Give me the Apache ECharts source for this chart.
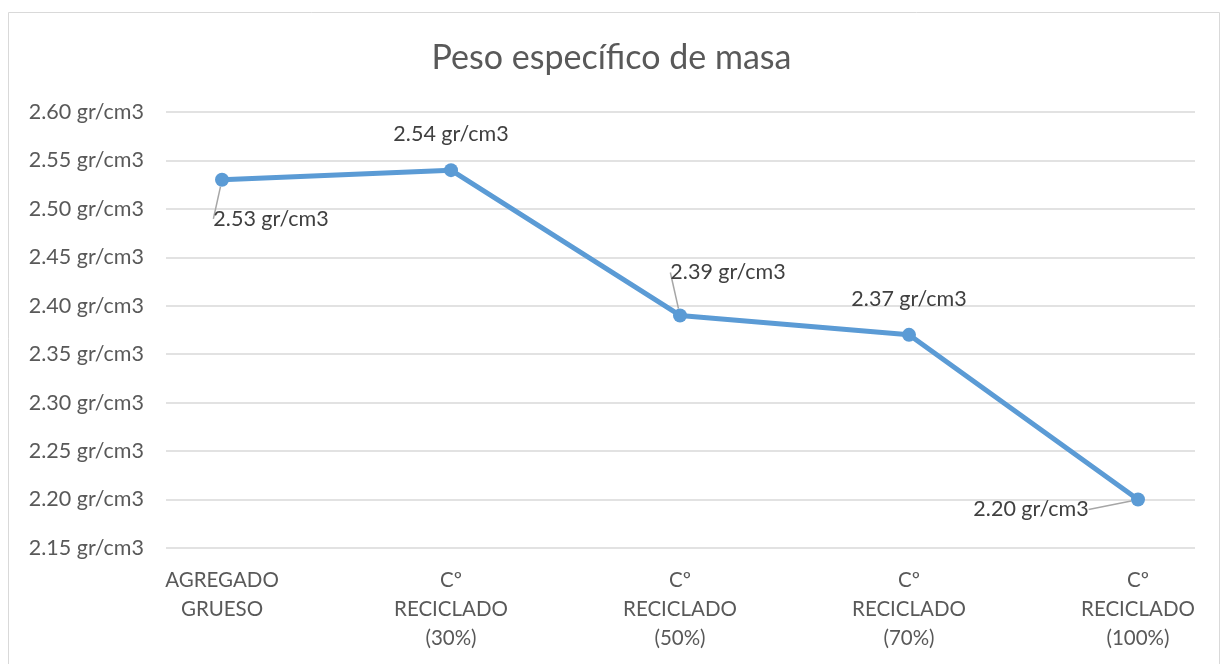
<!DOCTYPE html>
<html lang="es">
<head>
  <meta charset="UTF-8">
  <title>Peso específico de masa</title>
  <script src="https://cdn.jsdelivr.net/npm/echarts@6/dist/echarts.min.js"></script>
  <style>
    html, body { margin: 0; padding: 0; background: #fff; }
  </style>
</head>
<body>
<div id="main" style="width: 1223px; height: 664px"></div>
<script>

  var categories = ['AGREGADO\nGRUESO', 'Cº\nRECICLADO\n(30%)', 'Cº\nRECICLADO\n(50%)', 'Cº\nRECICLADO\n(70%)', 'Cº\nRECICLADO\n(100%)'];
  var values = [2.53, 2.54, 2.39, 2.37, 2.20];
  // label offsets from the default 'top' spot, one per point
  var labelShift = [[49, 75], [0, 0], [48, -7], [0, 0], [-107, 46]];
  var hasLeader = [true, false, true, false, true];

  var font = 'Lato, "Open Sans", sans-serif';
  var chartDom = document.getElementById('main');
  var myChart = echarts.init(chartDom);
  var option;

  var seriesData = values.map(function (v, i) {
    return { value: v, labelLine: { show: hasLeader[i] } };
  });

  option = {
    animation: false,
    textStyle: { fontFamily: font },
    title: {
      text: 'Peso específico de masa',
      left: 'center',
      top: 36,
      textStyle: { fontFamily: font, fontSize: 34, fontWeight: 'normal', color: '#595959' }
    },
    graphic: [{
      type: 'rect',
      shape: { x: 8.5, y: 12.5, width: 1211, height: 660 },
      style: { fill: 'none', stroke: '#d9d9d9', lineWidth: 1 },
      silent: true
    }],
    grid: [
      { left: 166, right: 28, top: 112, bottom: 116 },
      { left: 222, right: 85, top: 112, bottom: 116 }
    ],
    xAxis: [
      { gridIndex: 0, type: 'value', min: 0, max: 1, show: false },
      {
        gridIndex: 1,
        type: 'category',
        data: categories,
        boundaryGap: false,
        axisLine: { show: false },
        axisTick: { show: false },
        axisLabel: { color: '#595959', fontSize: 20.5, lineHeight: 29, margin: 18, fontFamily: font }
      }
    ],
    yAxis: [
      {
        gridIndex: 0,
        type: 'value',
        min: 2.15,
        max: 2.60,
        interval: 0.05,
        axisLine: { show: false },
        axisTick: { show: false },
        splitLine: { lineStyle: { color: '#d9d9d9', width: 1.5 } },
        axisLabel: {
          color: '#595959', fontSize: 21.5, margin: 22, fontFamily: font,
          formatter: function (v) { return v.toFixed(2) + ' gr/cm3'; }
        }
      },
      { gridIndex: 1, type: 'value', min: 2.15, max: 2.60, show: false }
    ],
    series: [
      {
        type: 'line',
        xAxisIndex: 1,
        yAxisIndex: 1,
        data: seriesData,
        symbol: 'circle',
        symbolSize: 14,
        lineStyle: { color: '#5b9bd5', width: 5 },
        itemStyle: { color: '#5b9bd5' },
        label: {
          show: true,
          position: 'top',
          distance: 18,
          color: '#404040',
          fontSize: 21.5,
          fontFamily: font,
          formatter: function (p) { return p.value.toFixed(2) + ' gr/cm3'; }
        },
        labelLine: { lineStyle: { color: '#a6a6a6', width: 1.5 } },
        labelLayout: function (p) {
          var s = labelShift[p.dataIndex];
          return { dx: s[0], dy: s[1] };
        }
      }
    ]
  };
  option && myChart.setOption(option);

</script>
</body>
</html>
